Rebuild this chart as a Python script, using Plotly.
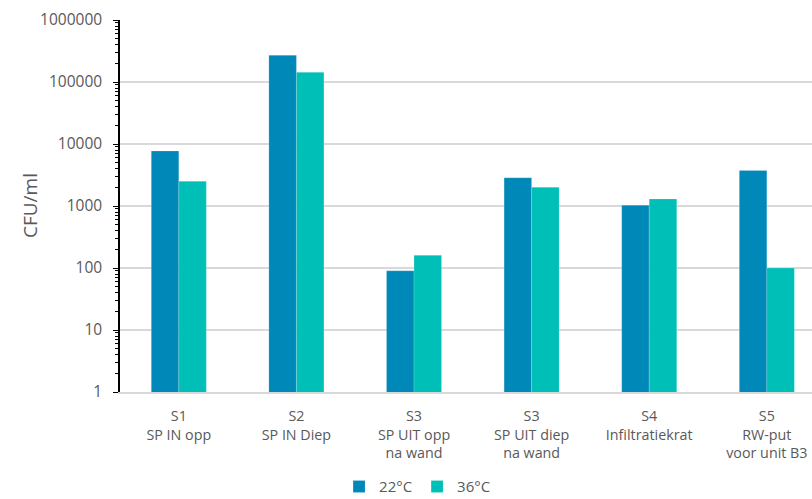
import plotly.graph_objects as go

categories = ["S1<br>SP IN opp", "S2<br>SP IN Diep", "S3<br>SP UIT opp<br>na wand",
              "S3<br>SP UIT diep<br>na wand", "S4<br>Infiltratiekrat", "S5<br>RW-put<br>voor unit B3"]
series_names = ["22°C", "36°C"]
values_22 = [7700, 270000, 90, 2850, 1030, 3750]
values_36 = [2500, 143000, 160, 2000, 1300, 100]
ytick_vals = [1, 10, 100, 1000, 10000, 100000, 1000000]
ytick_text = ["1", "10", "100", "1000", "10000", "100000", "1000000"]

colors = ["#0088B8", "#00BFB6"]
FONT = "Open Sans"
GRAY = "#595959"

fig = go.Figure()
for name, vals, col in zip(series_names, [values_22, values_36], colors):
    fig.add_trace(go.Bar(
        x=list(range(len(categories))), y=vals, name=name,
        marker=dict(color=col, line=dict(color="rgba(255,255,255,0.35)", width=0.5)),
    ))

fig.update_layout(
    width=812, height=499,
    margin=dict(l=120, r=0, t=20, b=107, autoexpand=False),
    paper_bgcolor="white", plot_bgcolor="white",
    barmode="group", bargap=0.532, bargroupgap=0,
    font=dict(family=FONT, size=15, color=GRAY),
    showlegend=True,
    legend=dict(orientation="h", x=0.430, xanchor="center", y=-0.255, yanchor="middle",
                font=dict(family=FONT, size=15, color=GRAY), itemwidth=30,
                traceorder="normal"),
    xaxis=dict(
        range=[-0.5, 5.384],
        tickmode="array", tickvals=list(range(len(categories))), ticktext=categories,
        showline=True, linecolor="#D9D9D9", linewidth=1.5,
        showgrid=False, ticks="", zeroline=False, ticklabelstandoff=10,
        tickfont=dict(family=FONT, size=14.3, color=GRAY),
    ),
    yaxis=dict(
        type="log", range=[0, 6],
        tickmode="array", tickvals=ytick_vals, ticktext=ytick_text,
        showline=True, linecolor="black", linewidth=1.5,
        ticks="outside", ticklen=5, tickcolor="black", tickwidth=1,
        showgrid=True, gridcolor="#D9D9D9", gridwidth=1.5,
        zeroline=False, ticklabelstandoff=8,
        tickfont=dict(family=FONT, size=15.5, color=GRAY),
        minor=dict(ticks="outside", ticklen=3, tickcolor="black", tickwidth=1,
                   showgrid=False, dtick="D1"),
    ),
    annotations=[dict(text="CFU/ml", xref="paper", yref="paper",
                      x=(30 - 120) / 692, y=0.5, textangle=-90, showarrow=False,
                      xanchor="center", yanchor="middle",
                      font=dict(family=FONT, size=19, color=GRAY))],
)

fig.write_html("out.html", config={"displayModeBar": False},
               post_script="document.body.style.margin='0';document.body.style.overflow='hidden';")
